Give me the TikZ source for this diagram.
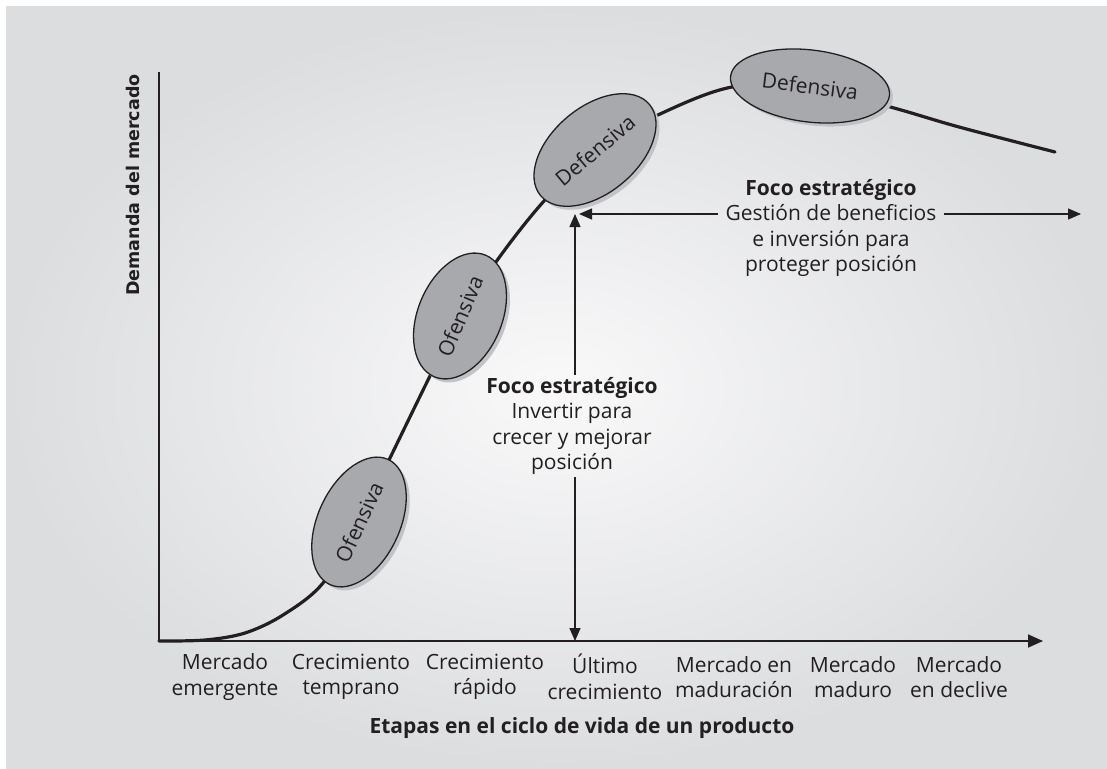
\documentclass[tikz,border=0pt]{standalone}
\usepackage{fontspec}
\setmainfont{Open Sans}
\newfontfamily\ylabfont{DejaVu Sans}
\usetikzlibrary{arrows.meta,shapes.geometric,shadows}
\definecolor{bgout}{HTML}{DCDDDF}
\definecolor{bgin}{HTML}{F9F9FA}
\definecolor{ink}{HTML}{231F20}
\definecolor{ellfill}{HTML}{A7A9AC}
\definecolor{shad}{HTML}{C2C3C6}
\begin{document}
\begin{tikzpicture}[x=1pt,y=-1pt,
  txt/.style={font=\fontsize{21}{25.5}\selectfont, text=ink, align=center, inner sep=2pt},
  titletxt/.style={font=\fontsize{21}{25.5}\selectfont\bfseries, text=ink, inner sep=2pt},
  ylabtxt/.style={font=\ylabfont\bfseries\fontsize{17.5}{20}\selectfont, text=ink, rotate=90, inner sep=2pt},
  ell/.style={ellipse, draw=ink, line width=1.3pt, fill=ellfill, inner sep=0pt,
    font=\fontsize{21}{25.5}\selectfont, text=ink,
    general shadow={fill=shad, shadow xshift=3.5pt, shadow yshift=-3.5pt}},
  curve/.style={line width=3.2pt, draw=ink, line cap=round},
  axis/.style={line width=1.7pt, draw=ink, line join=miter},
  dbl/.style={line width=1.3pt, draw=ink, -{Triangle[length=13pt,width=11pt]}},
]
\useasboundingbox (0,0) rectangle (1107,768);
\fill[white] (0,0) rectangle (1107,768);
\shade[inner color=bgin, outer color=bgout] (6,7) rectangle (1107,768);

% axes
\coordinate (ytop) at (159,72);
\coordinate (O) at (159,641);
\coordinate (xend) at (1043,641);
\draw[axis, -{Triangle[length=15pt,width=13pt]}] (ytop) -- (O) -- (xend);

% curve
\draw[curve] plot[smooth, tension=0.55] coordinates {(159,641) (205,640) (245,633) (283,615) (323,583) (359,522) (390,458) (428,380) (460,316) (501,255) (544,201) (595,150) (660,114) (732,87) (810,86) (894,108) (959,127) (1055,152)};

% ellipses
\node[ell, minimum width=138pt, minimum height=82pt, rotate=65] (e1) at (359,522) {Ofensiva};
\node[ell, minimum width=132pt, minimum height=84pt, rotate=67] (e2) at (460,316) {Ofensiva};
\node[ell, minimum width=142pt, minimum height=86pt, rotate=40] (e3) at (595,150) {Defensiva};
\node[ell, minimum width=160pt, minimum height=72pt, rotate=-7] (e4) at (810,86) {Defensiva};

% focus texts
\node[txt] (foco1) at (572,426) {\textbf{Foco estratégico}\\Invertir para\\crecer y mejorar\\posición};
\node[txt, inner xsep=7pt] (foco2) at (831,228) {\textbf{Foco estratégico}\\Gestión de beneficios\\e inversión para\\proteger posición};

% arrows
\coordinate (vtop) at (575,214);
\coordinate (vbot) at (575,641);
\draw[dbl] (vtop |- foco1.north) -- (vtop);
\draw[dbl] (vtop |- foco1.south) -- (vbot);
\coordinate (hl) at (579,214);
\coordinate (hr) at (1081,214);
\draw[dbl] (foco2.west |- hl) -- (hl);
\draw[dbl] (foco2.east |- hr) -- (hr);

% stage labels
\node[txt] (s1) at (225,677) {Mercado\\emergente};
\node[txt] (s2) at (351,677) {Crecimiento\\temprano};
\node[txt] (s3) at (485,677) {Crecimiento\\rápido};
\node[txt] (s4) at (605,677) {Último\\crecimiento};
\node[txt] (s5) at (734,677) {Mercado en\\maduración};
\node[txt] (s6) at (853,677) {Mercado\\maduro};
\node[txt] (s7) at (959,677) {Mercado\\en declive};

% axis titles
\node[titletxt] (xtitle) at (582,728) {Etapas en el ciclo de vida de un producto};
\node[ylabtxt] (ytitle) at (133,185) {Demanda del mercado};
\end{tikzpicture}
\end{document}
